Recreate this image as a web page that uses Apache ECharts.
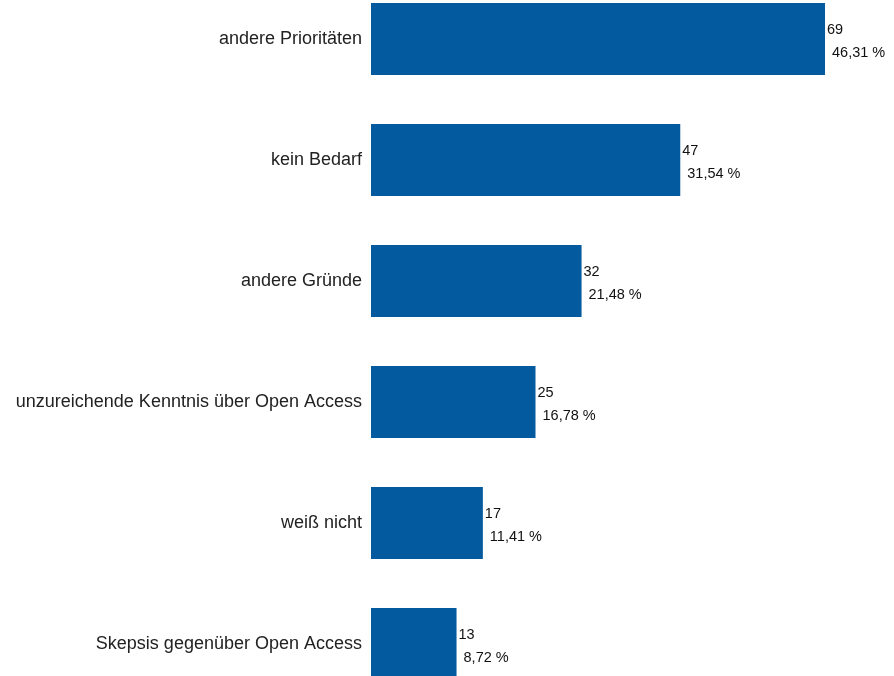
<!DOCTYPE html>
<html>
<head>
<meta charset="utf-8">
<script src="https://cdn.jsdelivr.net/npm/echarts@6/dist/echarts.min.js"></script>
<style>
  html, body { margin: 0; padding: 0; background: #fff; }
  #chart { width: 894px; height: 676px; }
</style>
</head>
<body>
<div id="chart"></div>
<script>
// Gründe gegen Open Access: Anzahl Nennungen und Anteil
const categories = [
  'andere Prioritäten',
  'kein Bedarf',
  'andere Gründe',
  'unzureichende Kenntnis über Open Access',
  'weiß nicht',
  'Skepsis gegenüber Open Access'
];
const counts = [69, 47, 32, 25, 17, 13];
const shares = ['46,31', '31,54', '21,48', '16,78', '11,41', '8,72'];

const chart = echarts.init(document.getElementById('chart'), null, { renderer: 'canvas' });

const labelFont = 'Liberation Sans, Arial, sans-serif';

chart.setOption({
  animation: false,
  grid: {
    left: 371, top: -21.5, width: 526.4, height: 726,
    containLabel: false,
    outerBoundsMode: 'none'
  },
  xAxis: {
    type: 'value', min: 0, max: 80, show: false
  },
  yAxis: {
    type: 'category',
    inverse: true,
    data: categories,
    axisLine: { show: false },
    axisTick: { show: false },
    splitLine: { show: false },
    axisLabel: {
      margin: 9,
      fontFamily: labelFont,
      fontSize: 18,
      color: '#222'
    }
  },
  series: [{
    type: 'bar',
    data: counts,
    barWidth: 72,
    itemStyle: { color: '#045a9f' },
    label: {
      show: true,
      position: 'right',
      distance: 2,
      offset: [0, 2],
      align: 'left',
      fontFamily: labelFont,
      formatter: p => '{n|' + p.value + '}\n{s|' + shares[p.dataIndex] + ' %}',
      rich: {
        n: { fontSize: 14.5, color: '#111', lineHeight: 23, fontFamily: labelFont },
        s: { fontSize: 14.5, color: '#111', lineHeight: 23, padding: [0, 0, 0, 5], fontFamily: labelFont }
      }
    }
  }]
});
</script>
</body>
</html>
